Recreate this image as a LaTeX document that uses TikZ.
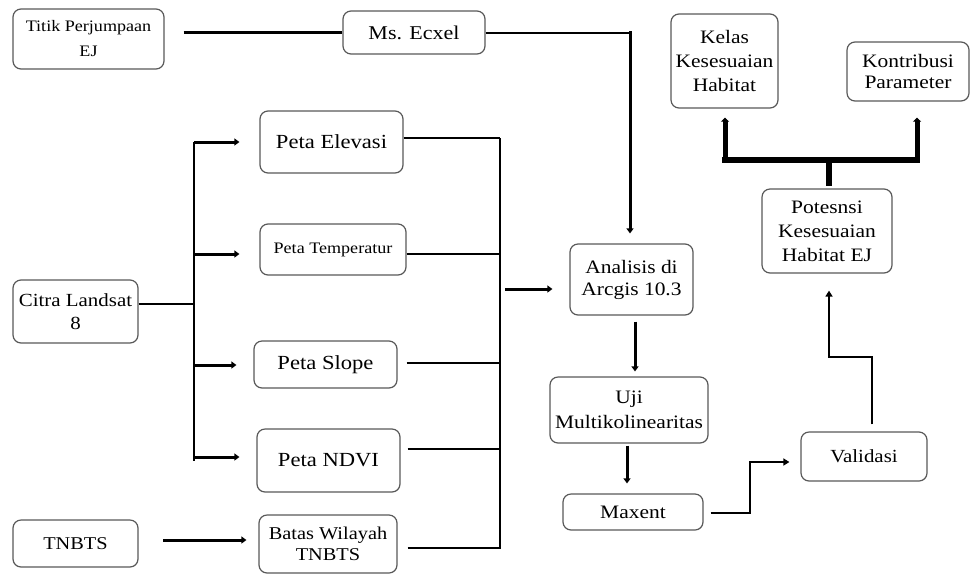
\documentclass[tikz,border=0pt]{standalone}
\usepackage{fontspec}
\setmainfont{Liberation Serif}[FakeStretch=1.13]
\usetikzlibrary{arrows.meta}
\begin{document}
\begin{tikzpicture}[x=1pt,y=-1pt,
  box/.style={draw=black!65, line width=1.2pt, rounded corners=8pt, align=center, inner sep=0pt, fill=white,
    font=\fontsize{19}{24}\selectfont},
  ln/.style={line width=2pt, black},
  arr/.style={line width=3pt, -{Triangle[length=5pt,width=7pt]}},
  tarr/.style={line width=2.2pt, -{Triangle[length=6pt,width=7pt]}}
]
\useasboundingbox (0,0) rectangle (971,574);

% nodes
\node[box, minimum width=151pt, minimum height=60pt, font=\fontsize{16}{25}\selectfont] (titik) at (88.5,39) {Titik Perjumpaan\\EJ};
\node[box, minimum width=142pt, minimum height=43pt, font=\fontsize{19.5}{24}\selectfont] (ms) at (414,32.5) {Ms. Ecxel};
\node[box, minimum width=107pt, minimum height=94pt] (kelas) at (724.5,61) {Kelas\\Kesesuaian\\Habitat};
\node[box, minimum width=122pt, minimum height=59pt, font=\fontsize{19}{21}\selectfont] (kont) at (908,71.5) {Kontribusi\\Parameter};
\node[box, minimum width=143pt, minimum height=62pt, font=\fontsize{20}{24}\selectfont] (elev) at (331.5,142) {Peta Elevasi};
\node[box, minimum width=146pt, minimum height=51pt, font=\fontsize{16}{20}\selectfont] (temp) at (333,249.5) {Peta Temperatur};
\node[box, minimum width=125pt, minimum height=63pt, font=\fontsize{18.5}{23}\selectfont] (citra) at (75.5,311.5) {Citra Landsat\\8};
\node[box, minimum width=143pt, minimum height=47pt, font=\fontsize{20}{24}\selectfont] (slope) at (325.5,364.5) {Peta Slope};
\node[box, minimum width=143pt, minimum height=63pt, font=\fontsize{20}{24}\selectfont] (ndvi) at (328.5,460.5) {Peta NDVI};
\node[box, minimum width=125pt, minimum height=47pt, font=\fontsize{18}{22}\selectfont] (tnbts) at (75.5,543.5) {TNBTS};
\node[box, minimum width=138pt, minimum height=58pt, font=\fontsize{18}{21}\selectfont] (batas) at (328,544) {Batas Wilayah\\TNBTS};
\node[box, minimum width=123pt, minimum height=71pt, font=\fontsize{19}{22}\selectfont] (anal) at (631.5,279.5) {Analisis di\\Arcgis 10.3};
\node[box, minimum width=158pt, minimum height=66pt, font=\fontsize{19}{25}\selectfont] (uji) at (629,410) {Uji\\Multikolinearitas};
\node[box, minimum width=140pt, minimum height=36pt] (maxent) at (633,512) {Maxent};
\node[box, minimum width=126pt, minimum height=49pt, font=\fontsize{18.5}{23}\selectfont] (valid) at (864,456.5) {Validasi};
\node[box, minimum width=130pt, minimum height=84pt] (pot) at (827,231) {Potesnsi\\Kesesuaian\\Habitat EJ};

% coordinates
\coordinate (mc) at (630,32.5);
\coordinate (lj) at (194,304);
\coordinate (rt) at (500,138);
\coordinate (ra) at (501,289);
\coordinate (bl) at (725,160);
\coordinate (br) at (917,160);
\coordinate (bm) at (829,160);
\coordinate (v1) at (872,357);
\coordinate (v2) at (829,357);
\coordinate (m1) at (750,513);
\coordinate (m2) at (750,462);
\coordinate (ta) at (163,540);

% top: Titik -> Ms. Ecxel -> Analisis
\draw[ln, line width=2.4pt, shorten <=19pt] (titik.east |- ms) -- (ms.west);
\draw[ln] (ms.east) -- (mc);
\draw[line width=3pt, -{Triangle[length=5pt,width=7pt]}, shorten >=10pt, line cap=rect] (mc) -- (mc |- anal.north);

% left bus
\draw[ln] (citra.east |- lj) -- (lj);
\draw[ln, line width=2.4pt] (lj |- elev) -- (lj |- ndvi);
\draw[arr, shorten >=20pt] (lj |- elev) -- (elev.west);
\draw[arr, shorten >=20pt] (lj |- 0,254) -- (temp.west |- 0,254);
\draw[arr, shorten >=17pt] (lj |- 0,365) -- (slope.west |- 0,365);
\draw[arr, shorten >=17pt] (lj |- 0,457) -- (ndvi.west |- 0,457);

% TNBTS -> Batas
\draw[arr, shorten >=12pt] (ta) -- (batas.west |- ta);

% right bus
\draw[ln] (elev.east |- rt) -- (rt);
\draw[ln] (temp.east |- 0,254) -- (rt |- 0,254);
\draw[ln, shorten <=9pt] (slope.east |- 0,363) -- (rt |- 0,363);
\draw[ln, shorten <=7pt] (ndvi.east |- 0,449) -- (rt |- 0,449);
\draw[ln, shorten <=10pt] (batas.east |- 0,548) -- (rt |- 0,548);
\draw[ln, line width=2.4pt] (rt) -- (rt |- 0,549);
\draw[arr, shorten <=4pt, shorten >=17pt] (ra) -- (anal.west |- ra);

% Analisis -> Uji -> Maxent
\draw[arr, shorten <=6pt, shorten >=5pt] (anal.south -| 635,0) -- (uji.north -| 635,0);
\draw[arr, shorten <=2pt, shorten >=10pt] (uji.south -| 627,0) -- (maxent.north -| 627,0);

% Maxent -> Validasi
\draw[tarr, shorten <=7pt, shorten >=11pt] (maxent.east |- m1) -- (m1) -- (m2) -- (valid.west |- m2);

% Validasi -> Potesnsi
\draw[tarr, shorten <=7pt, shorten >=17pt] (valid.north -| v1) -- (v1) -- (v2) -- (v2 |- pot.south);

% bracket
\draw[line width=5pt, -{Triangle[length=4pt,width=8pt]}, shorten >=9pt] (bl) -- (bl |- kelas.south);
\draw[line width=5pt, -{Triangle[length=4pt,width=8pt]}, shorten >=16pt] (br) -- (br |- kont.south);
\draw[line width=6pt, line cap=rect] (bl) -- (br);
\draw[line width=6pt, shorten >=2pt] (bm) -- (bm |- pot.north);
\end{tikzpicture}
\end{document}
